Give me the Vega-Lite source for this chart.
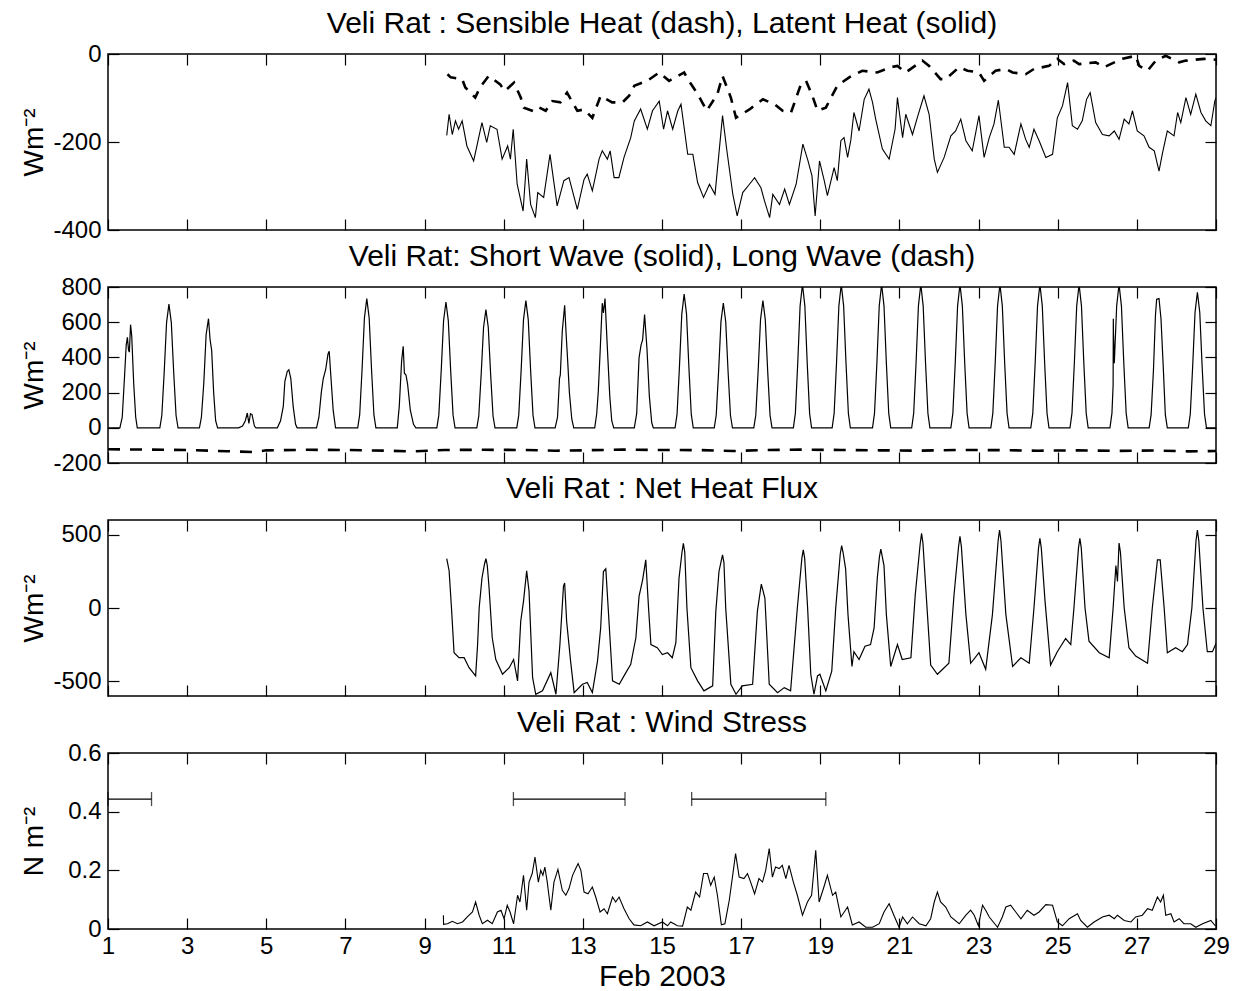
{
"$schema": "https://vega.github.io/schema/vega-lite/v6.json",
"background": "white",
"padding": {"left": 19, "top": 8, "right": 15, "bottom": 0},
"bounds": "flush",
"spacing": 57,
"config": {
  "font": "Liberation Sans",
  "view": {"stroke": "black", "strokeWidth": 1.5},
  "axis": {"labelFont": "Liberation Sans", "labelFontSize": 24, "labelColor": "black", "titleFont": "Liberation Sans", "titleFontSize": 28, "titleFontWeight": "normal", "titleColor": "black", "tickColor": "black", "tickWidth": 1.2, "tickSize": -11, "domain": false, "grid": false, "labelFlush": false, "labelOverlap": false, "labelExpr": "'' + datum.value"},
  "axisX": {"labelPadding": 16, "titlePadding": 3},
  "axisY": {"labelPadding": 18},
  "title": {"font": "Liberation Sans", "fontSize": 30, "fontWeight": "normal", "color": "black", "frame": "group", "offset": 3}
},
"datasets": {
"lat": [{"t":9.56,"v":-185},{"t":9.62,"v":-137},{"t":9.7,"v":-183},{"t":9.78,"v":-152},{"t":9.86,"v":-171},{"t":9.95,"v":-152},{"t":10.07,"v":-209},{"t":10.24,"v":-243},{"t":10.45,"v":-156},{"t":10.57,"v":-201},{"t":10.66,"v":-163},{"t":10.83,"v":-171},{"t":10.96,"v":-239},{"t":11.1,"v":-209},{"t":11.17,"v":-239},{"t":11.24,"v":-171},{"t":11.34,"v":-296},{"t":11.49,"v":-357},{"t":11.58,"v":-239},{"t":11.68,"v":-342},{"t":11.8,"v":-372},{"t":11.86,"v":-315},{"t":12.01,"v":-326},{"t":12.17,"v":-228},{"t":12.35,"v":-345},{"t":12.52,"v":-288},{"t":12.65,"v":-281},{"t":12.86,"v":-353},{"t":13.03,"v":-285},{"t":13.11,"v":-273},{"t":13.24,"v":-311},{"t":13.41,"v":-239},{"t":13.49,"v":-220},{"t":13.62,"v":-239},{"t":13.69,"v":-220},{"t":13.79,"v":-281},{"t":13.91,"v":-281},{"t":14.04,"v":-235},{"t":14.21,"v":-190},{"t":14.3,"v":-152},{"t":14.46,"v":-125},{"t":14.63,"v":-171},{"t":14.76,"v":-129},{"t":14.93,"v":-107},{"t":15.04,"v":-171},{"t":15.14,"v":-129},{"t":15.27,"v":-171},{"t":15.4,"v":-129},{"t":15.48,"v":-114},{"t":15.65,"v":-228},{"t":15.78,"v":-228},{"t":15.9,"v":-292},{"t":16.05,"v":-326},{"t":16.2,"v":-296},{"t":16.34,"v":-319},{"t":16.53,"v":-140},{"t":16.64,"v":-220},{"t":16.79,"v":-319},{"t":16.9,"v":-368},{"t":17.04,"v":-315},{"t":17.21,"v":-296},{"t":17.34,"v":-281},{"t":17.5,"v":-304},{"t":17.59,"v":-334},{"t":17.72,"v":-372},{"t":17.8,"v":-319},{"t":17.97,"v":-342},{"t":18.1,"v":-307},{"t":18.22,"v":-342},{"t":18.39,"v":-296},{"t":18.56,"v":-205},{"t":18.69,"v":-243},{"t":18.79,"v":-277},{"t":18.87,"v":-368},{"t":18.98,"v":-243},{"t":19.1,"v":-288},{"t":19.18,"v":-322},{"t":19.35,"v":-258},{"t":19.43,"v":-288},{"t":19.52,"v":-197},{"t":19.6,"v":-190},{"t":19.69,"v":-235},{"t":19.77,"v":-197},{"t":19.85,"v":-133},{"t":19.98,"v":-175},{"t":20.11,"v":-103},{"t":20.23,"v":-80},{"t":20.32,"v":-110},{"t":20.4,"v":-148},{"t":20.57,"v":-216},{"t":20.74,"v":-239},{"t":20.89,"v":-171},{"t":20.95,"v":-99},{"t":21.08,"v":-190},{"t":21.16,"v":-137},{"t":21.33,"v":-183},{"t":21.45,"v":-145},{"t":21.62,"v":-95},{"t":21.75,"v":-137},{"t":21.88,"v":-239},{"t":21.96,"v":-269},{"t":22.13,"v":-235},{"t":22.3,"v":-186},{"t":22.42,"v":-175},{"t":22.55,"v":-148},{"t":22.68,"v":-197},{"t":22.84,"v":-220},{"t":23.01,"v":-140},{"t":23.14,"v":-235},{"t":23.27,"v":-190},{"t":23.39,"v":-159},{"t":23.5,"v":-105},{"t":23.65,"v":-212},{"t":23.77,"v":-212},{"t":23.9,"v":-228},{"t":24.07,"v":-159},{"t":24.19,"v":-194},{"t":24.28,"v":-212},{"t":24.4,"v":-171},{"t":24.53,"v":-197},{"t":24.7,"v":-235},{"t":24.87,"v":-228},{"t":24.99,"v":-145},{"t":25.12,"v":-118},{"t":25.25,"v":-65},{"t":25.37,"v":-163},{"t":25.5,"v":-171},{"t":25.62,"v":-152},{"t":25.73,"v":-103},{"t":25.82,"v":-88},{"t":25.96,"v":-156},{"t":26.13,"v":-183},{"t":26.3,"v":-186},{"t":26.43,"v":-175},{"t":26.55,"v":-194},{"t":26.68,"v":-148},{"t":26.8,"v":-159},{"t":26.89,"v":-129},{"t":27.01,"v":-175},{"t":27.18,"v":-186},{"t":27.31,"v":-212},{"t":27.44,"v":-220},{"t":27.56,"v":-266},{"t":27.65,"v":-224},{"t":27.77,"v":-175},{"t":27.94,"v":-186},{"t":28.03,"v":-133},{"t":28.11,"v":-156},{"t":28.24,"v":-99},{"t":28.36,"v":-137},{"t":28.49,"v":-91},{"t":28.62,"v":-133},{"t":28.74,"v":-152},{"t":28.87,"v":-163},{"t":28.97,"v":-107},{"t":29.0,"v":-100}],
"sen": [{"t":9.58,"v":-46},{"t":9.66,"v":-53},{"t":9.95,"v":-57},{"t":10.03,"v":-76},{"t":10.28,"v":-99},{"t":10.4,"v":-76},{"t":10.62,"v":-50},{"t":10.91,"v":-69},{"t":11.03,"v":-84},{"t":11.26,"v":-65},{"t":11.43,"v":-99},{"t":11.51,"v":-122},{"t":11.78,"v":-131},{"t":11.9,"v":-122},{"t":12.06,"v":-129},{"t":12.23,"v":-107},{"t":12.43,"v":-110},{"t":12.6,"v":-88},{"t":12.86,"v":-129},{"t":13.03,"v":-126},{"t":13.24,"v":-145},{"t":13.45,"v":-95},{"t":13.74,"v":-110},{"t":14.0,"v":-110},{"t":14.17,"v":-95},{"t":14.3,"v":-72},{"t":14.63,"v":-61},{"t":14.93,"v":-42},{"t":15.18,"v":-61},{"t":15.56,"v":-42},{"t":15.65,"v":-57},{"t":15.9,"v":-91},{"t":16.13,"v":-129},{"t":16.4,"v":-91},{"t":16.53,"v":-50},{"t":16.74,"v":-99},{"t":16.87,"v":-145},{"t":17.21,"v":-126},{"t":17.55,"v":-103},{"t":17.84,"v":-114},{"t":18.05,"v":-129},{"t":18.26,"v":-133},{"t":18.51,"v":-69},{"t":18.64,"v":-61},{"t":18.8,"v":-95},{"t":18.93,"v":-129},{"t":19.14,"v":-122},{"t":19.43,"v":-72},{"t":19.73,"v":-53},{"t":20.06,"v":-38},{"t":20.44,"v":-42},{"t":20.78,"v":-30},{"t":20.95,"v":-27},{"t":21.16,"v":-42},{"t":21.58,"v":-15},{"t":21.75,"v":-27},{"t":22.04,"v":-57},{"t":22.17,"v":-57},{"t":22.51,"v":-30},{"t":22.72,"v":-38},{"t":23.01,"v":-42},{"t":23.14,"v":-61},{"t":23.43,"v":-38},{"t":23.69,"v":-34},{"t":23.86,"v":-42},{"t":24.19,"v":-46},{"t":24.4,"v":-34},{"t":24.78,"v":-27},{"t":24.99,"v":-11},{"t":25.16,"v":-23},{"t":25.41,"v":-15},{"t":25.54,"v":-23},{"t":25.96,"v":-19},{"t":26.17,"v":-30},{"t":26.43,"v":-19},{"t":26.64,"v":-11},{"t":26.97,"v":-4},{"t":27.06,"v":-27},{"t":27.27,"v":-38},{"t":27.48,"v":-15},{"t":27.73,"v":-4},{"t":28.07,"v":-19},{"t":28.24,"v":-15},{"t":28.7,"v":-11},{"t":29.0,"v":-13}],
"sw": [{"t":1.0,"v":0},{"t":1.3,"v":0},{"t":1.36,"v":60},{"t":1.42,"v":300},{"t":1.46,"v":470},{"t":1.49,"v":514},{"t":1.52,"v":440},{"t":1.54,"v":430},{"t":1.57,"v":586},{"t":1.6,"v":520},{"t":1.65,"v":250},{"t":1.7,"v":60},{"t":1.74,"v":0},
{"t":2.31,"v":0},{"t":2.36,"v":70},{"t":2.42,"v":316},{"t":2.48,"v":598},{"t":2.54,"v":703},{"t":2.6,"v":598},{"t":2.66,"v":316},{"t":2.72,"v":70},{"t":2.77,"v":0},
{"t":3.31,"v":0},{"t":3.36,"v":60},{"t":3.42,"v":250},{"t":3.48,"v":530},{"t":3.54,"v":620},{"t":3.58,"v":500},{"t":3.62,"v":440},{"t":3.67,"v":200},{"t":3.72,"v":40},{"t":3.77,"v":0},
{"t":4.3,"v":0},{"t":4.4,"v":10},{"t":4.47,"v":40},{"t":4.52,"v":84},{"t":4.56,"v":25},{"t":4.6,"v":80},{"t":4.64,"v":75},{"t":4.7,"v":10},{"t":4.74,"v":0},
{"t":5.28,"v":0},{"t":5.36,"v":40},{"t":5.43,"v":122},{"t":5.47,"v":264},{"t":5.53,"v":320},{"t":5.57,"v":330},{"t":5.62,"v":280},{"t":5.68,"v":120},{"t":5.74,"v":20},{"t":5.78,"v":0},
{"t":6.27,"v":0},{"t":6.33,"v":60},{"t":6.39,"v":200},{"t":6.44,"v":280},{"t":6.5,"v":330},{"t":6.56,"v":420},{"t":6.59,"v":435},{"t":6.63,"v":300},{"t":6.69,"v":100},{"t":6.75,"v":0},
{"t":7.31,"v":0},{"t":7.36,"v":73},{"t":7.42,"v":330},{"t":7.48,"v":624},{"t":7.54,"v":734},{"t":7.6,"v":624},{"t":7.66,"v":330},{"t":7.72,"v":73},{"t":7.77,"v":0},
{"t":8.31,"v":0},{"t":8.36,"v":120},{"t":8.42,"v":380},{"t":8.46,"v":463},{"t":8.49,"v":310},{"t":8.53,"v":300},{"t":8.57,"v":250},{"t":8.64,"v":100},{"t":8.72,"v":20},{"t":8.78,"v":0},
{"t":9.31,"v":0},{"t":9.36,"v":72},{"t":9.42,"v":322},{"t":9.48,"v":608},{"t":9.54,"v":715},{"t":9.6,"v":608},{"t":9.66,"v":322},{"t":9.72,"v":72},{"t":9.77,"v":0},
{"t":10.32,"v":0},{"t":10.37,"v":67},{"t":10.43,"v":302},{"t":10.49,"v":570},{"t":10.55,"v":671},{"t":10.61,"v":570},{"t":10.67,"v":302},{"t":10.73,"v":67},{"t":10.78,"v":0},
{"t":11.33,"v":0},{"t":11.38,"v":72},{"t":11.44,"v":325},{"t":11.5,"v":615},{"t":11.56,"v":723},{"t":11.62,"v":615},{"t":11.68,"v":325},{"t":11.74,"v":72},{"t":11.79,"v":0},
{"t":12.3,"v":0},{"t":12.36,"v":60},{"t":12.41,"v":280},{"t":12.43,"v":300},{"t":12.48,"v":550},{"t":12.54,"v":696},{"t":12.58,"v":520},{"t":12.61,"v":406},{"t":12.66,"v":200},{"t":12.72,"v":50},{"t":12.77,"v":0},
{"t":13.3,"v":0},{"t":13.35,"v":80},{"t":13.39,"v":207},{"t":13.44,"v":450},{"t":13.49,"v":708},{"t":13.52,"v":652},{"t":13.56,"v":734},{"t":13.62,"v":450},{"t":13.68,"v":180},{"t":13.73,"v":40},{"t":13.78,"v":0},
{"t":14.3,"v":0},{"t":14.36,"v":80},{"t":14.42,"v":397},{"t":14.47,"v":470},{"t":14.51,"v":500},{"t":14.56,"v":643},{"t":14.62,"v":450},{"t":14.68,"v":180},{"t":14.74,"v":30},{"t":14.78,"v":0},
{"t":15.33,"v":0},{"t":15.38,"v":76},{"t":15.44,"v":342},{"t":15.5,"v":646},{"t":15.56,"v":760},{"t":15.62,"v":646},{"t":15.68,"v":342},{"t":15.74,"v":76},{"t":15.79,"v":0},
{"t":16.32,"v":0},{"t":16.37,"v":71},{"t":16.43,"v":319},{"t":16.49,"v":603},{"t":16.55,"v":709},{"t":16.61,"v":603},{"t":16.67,"v":319},{"t":16.73,"v":71},{"t":16.78,"v":0},
{"t":17.32,"v":0},{"t":17.37,"v":72},{"t":17.43,"v":325},{"t":17.49,"v":615},{"t":17.55,"v":723},{"t":17.61,"v":615},{"t":17.67,"v":325},{"t":17.73,"v":72},{"t":17.78,"v":0},
{"t":18.32,"v":0},{"t":18.37,"v":82},{"t":18.43,"v":367},{"t":18.49,"v":693},{"t":18.55,"v":815},{"t":18.61,"v":693},{"t":18.67,"v":367},{"t":18.73,"v":82},{"t":18.78,"v":0},
{"t":19.3,"v":0},{"t":19.35,"v":82},{"t":19.41,"v":367},{"t":19.47,"v":693},{"t":19.53,"v":815},{"t":19.59,"v":693},{"t":19.65,"v":367},{"t":19.71,"v":82},{"t":19.76,"v":0},
{"t":20.32,"v":0},{"t":20.37,"v":82},{"t":20.43,"v":367},{"t":20.49,"v":693},{"t":20.55,"v":815},{"t":20.61,"v":693},{"t":20.67,"v":367},{"t":20.73,"v":82},{"t":20.78,"v":0},
{"t":21.31,"v":0},{"t":21.36,"v":82},{"t":21.42,"v":367},{"t":21.48,"v":693},{"t":21.54,"v":815},{"t":21.6,"v":693},{"t":21.66,"v":367},{"t":21.72,"v":82},{"t":21.77,"v":0},
{"t":22.3,"v":0},{"t":22.35,"v":82},{"t":22.41,"v":367},{"t":22.47,"v":693},{"t":22.53,"v":815},{"t":22.59,"v":693},{"t":22.65,"v":367},{"t":22.71,"v":82},{"t":22.76,"v":0},
{"t":23.31,"v":0},{"t":23.36,"v":82},{"t":23.42,"v":367},{"t":23.48,"v":693},{"t":23.54,"v":815},{"t":23.6,"v":693},{"t":23.66,"v":367},{"t":23.72,"v":82},{"t":23.77,"v":0},
{"t":24.32,"v":0},{"t":24.37,"v":82},{"t":24.43,"v":367},{"t":24.49,"v":693},{"t":24.55,"v":815},{"t":24.61,"v":693},{"t":24.67,"v":367},{"t":24.73,"v":82},{"t":24.78,"v":0},
{"t":25.31,"v":0},{"t":25.36,"v":82},{"t":25.42,"v":367},{"t":25.48,"v":693},{"t":25.54,"v":815},{"t":25.6,"v":693},{"t":25.66,"v":367},{"t":25.72,"v":82},{"t":25.77,"v":0},
{"t":26.32,"v":0},{"t":26.37,"v":82},{"t":26.4,"v":240},{"t":26.405,"v":620},{"t":26.41,"v":530},{"t":26.43,"v":367},{"t":26.49,"v":693},{"t":26.55,"v":815},{"t":26.61,"v":693},{"t":26.67,"v":367},{"t":26.73,"v":82},{"t":26.78,"v":0},
{"t":27.31,"v":0},{"t":27.36,"v":73},{"t":27.42,"v":330},{"t":27.47,"v":640},{"t":27.5,"v":730},{"t":27.56,"v":734},{"t":27.61,"v":620},{"t":27.67,"v":330},{"t":27.72,"v":73},{"t":27.77,"v":0},
{"t":28.3,"v":0},{"t":28.35,"v":77},{"t":28.41,"v":347},{"t":28.47,"v":655},{"t":28.53,"v":770},{"t":28.59,"v":655},{"t":28.65,"v":347},{"t":28.71,"v":77},{"t":28.76,"v":0},{"t":29.0,"v":0}],
"lw": [{"t":1,"v":-122},{"t":2,"v":-124},{"t":3,"v":-126},{"t":4,"v":-133},{"t":4.7,"v":-138},{"t":5,"v":-128},{"t":6,"v":-125},{"t":7,"v":-126},{"t":8,"v":-130},{"t":8.7,"v":-134},{"t":9.5,"v":-126},{"t":10.5,"v":-125},{"t":11.5,"v":-126},{"t":12.3,"v":-130},{"t":13,"v":-128},{"t":14,"v":-124},{"t":15,"v":-126},{"t":16,"v":-127},{"t":16.8,"v":-132},{"t":17.5,"v":-127},{"t":18.5,"v":-124},{"t":19.5,"v":-126},{"t":20.5,"v":-128},{"t":21.5,"v":-130},{"t":22.5,"v":-126},{"t":23.5,"v":-127},{"t":24.5,"v":-130},{"t":25.5,"v":-128},{"t":26.5,"v":-131},{"t":27.5,"v":-129},{"t":28.3,"v":-134},{"t":29,"v":-132}],
"net": [{"t":9.56,"v":337},{"t":9.62,"v":254},{"t":9.68,"v":0},{"t":9.745,"v":-305},{"t":9.87,"v":-339},{"t":10.0,"v":-339},{"t":10.125,"v":-407},{"t":10.29,"v":-463},{"t":10.34,"v":-249},{"t":10.38,"v":0},{"t":10.45,"v":203},{"t":10.515,"v":300},{"t":10.55,"v":337},{"t":10.585,"v":290},{"t":10.63,"v":136},{"t":10.71,"v":-203},{"t":10.8,"v":-351},{"t":10.97,"v":-452},{"t":11.14,"v":-407},{"t":11.25,"v":-351},{"t":11.35,"v":-497},{"t":11.43,"v":-90},{"t":11.5,"v":45},{"t":11.58,"v":253},{"t":11.64,"v":113},{"t":11.73,"v":-475},{"t":11.81,"v":-588},{"t":11.98,"v":-565},{"t":12.19,"v":-441},{"t":12.32,"v":-588},{"t":12.42,"v":-249},{"t":12.51,"v":147},{"t":12.54,"v":170},{"t":12.59,"v":-90},{"t":12.69,"v":-362},{"t":12.78,"v":-577},{"t":12.99,"v":-520},{"t":13.11,"v":-508},{"t":13.24,"v":-577},{"t":13.37,"v":-362},{"t":13.45,"v":-136},{"t":13.52,"v":249},{"t":13.58,"v":267},{"t":13.64,"v":0},{"t":13.75,"v":-497},{"t":13.92,"v":-520},{"t":14.04,"v":-463},{"t":14.21,"v":-384},{"t":14.34,"v":-203},{"t":14.42,"v":79},{"t":14.51,"v":192},{"t":14.59,"v":328},{"t":14.66,"v":0},{"t":14.72,"v":-249},{"t":14.88,"v":-271},{"t":15.01,"v":-317},{"t":15.14,"v":-305},{"t":15.26,"v":-339},{"t":15.35,"v":-237},{"t":15.43,"v":203},{"t":15.505,"v":380},{"t":15.54,"v":441},{"t":15.575,"v":380},{"t":15.63,"v":0},{"t":15.73,"v":-407},{"t":15.9,"v":-497},{"t":16.06,"v":-565},{"t":16.28,"v":-531},{"t":16.36,"v":-23},{"t":16.44,"v":249},{"t":16.495,"v":320},{"t":16.53,"v":362},{"t":16.565,"v":310},{"t":16.61,"v":0},{"t":16.74,"v":-520},{"t":16.87,"v":-588},{"t":17.03,"v":-531},{"t":17.29,"v":-520},{"t":17.41,"v":-23},{"t":17.51,"v":163},{"t":17.6,"v":68},{"t":17.71,"v":-520},{"t":17.92,"v":-577},{"t":18.09,"v":-543},{"t":18.25,"v":-565},{"t":18.42,"v":0},{"t":18.535,"v":340},{"t":18.57,"v":396},{"t":18.605,"v":340},{"t":18.68,"v":0},{"t":18.76,"v":-452},{"t":18.84,"v":-588},{"t":18.93,"v":-463},{"t":18.99,"v":-452},{"t":19.14,"v":-565},{"t":19.29,"v":-430},{"t":19.39,"v":0},{"t":19.505,"v":370},{"t":19.54,"v":425},{"t":19.575,"v":380},{"t":19.64,"v":267},{"t":19.7,"v":-45},{"t":19.8,"v":-399},{"t":19.85,"v":-298},{"t":19.98,"v":-351},{"t":20.13,"v":-260},{"t":20.27,"v":-249},{"t":20.36,"v":-136},{"t":20.44,"v":203},{"t":20.495,"v":350},{"t":20.53,"v":402},{"t":20.61,"v":289},{"t":20.67,"v":-45},{"t":20.78,"v":-399},{"t":20.95,"v":-249},{"t":21.07,"v":-351},{"t":21.29,"v":-339},{"t":21.4,"v":90},{"t":21.525,"v":440},{"t":21.56,"v":509},{"t":21.595,"v":440},{"t":21.66,"v":158},{"t":21.79,"v":-389},{"t":21.96,"v":-452},{"t":22.25,"v":-377},{"t":22.38,"v":90},{"t":22.495,"v":420},{"t":22.53,"v":488},{"t":22.565,"v":420},{"t":22.68,"v":-45},{"t":22.8,"v":-377},{"t":23.01,"v":-305},{"t":23.18,"v":-418},{"t":23.35,"v":-45},{"t":23.495,"v":460},{"t":23.53,"v":531},{"t":23.565,"v":460},{"t":23.69,"v":-45},{"t":23.86,"v":-399},{"t":24.07,"v":-339},{"t":24.28,"v":-377},{"t":24.4,"v":0},{"t":24.515,"v":410},{"t":24.55,"v":475},{"t":24.585,"v":410},{"t":24.68,"v":45},{"t":24.82,"v":-389},{"t":24.99,"v":-298},{"t":25.2,"v":-208},{"t":25.33,"v":-249},{"t":25.41,"v":0},{"t":25.525,"v":410},{"t":25.56,"v":475},{"t":25.595,"v":410},{"t":25.69,"v":0},{"t":25.79,"v":-226},{"t":26.05,"v":-305},{"t":26.3,"v":-339},{"t":26.4,"v":0},{"t":26.47,"v":289},{"t":26.51,"v":181},{"t":26.55,"v":443},{"t":26.585,"v":380},{"t":26.68,"v":0},{"t":26.8,"v":-271},{"t":26.97,"v":-328},{"t":27.27,"v":-377},{"t":27.39,"v":0},{"t":27.52,"v":328},{"t":27.59,"v":328},{"t":27.69,"v":0},{"t":27.77,"v":-305},{"t":27.98,"v":-271},{"t":28.15,"v":-298},{"t":28.28,"v":-249},{"t":28.39,"v":0},{"t":28.495,"v":460},{"t":28.53,"v":531},{"t":28.565,"v":460},{"t":28.67,"v":0},{"t":28.78,"v":-298},{"t":28.91,"v":-298},{"t":28.99,"v":-249},{"t":29.0,"v":-240}],
"ws": [{"t":9.476,"v":0.047},{"t":9.48,"v":0.016},{"t":9.58,"v":0.018},{"t":9.7,"v":0.026},{"t":9.83,"v":0.018},{"t":9.96,"v":0.024},{"t":10.08,"v":0.041},{"t":10.21,"v":0.058},{"t":10.29,"v":0.092},{"t":10.38,"v":0.047},{"t":10.46,"v":0.018},{"t":10.59,"v":0.03},{"t":10.71,"v":0.018},{"t":10.84,"v":0.058},{"t":10.93,"v":0.064},{"t":11.01,"v":0.035},{"t":11.09,"v":0.081},{"t":11.16,"v":0.058},{"t":11.25,"v":0.018},{"t":11.35,"v":0.115},{"t":11.41,"v":0.092},{"t":11.5,"v":0.183},{"t":11.58,"v":0.064},{"t":11.64,"v":0.16},{"t":11.72,"v":0.189},{"t":11.79,"v":0.245},{"t":11.875,"v":0.16},{"t":11.935,"v":0.2},{"t":11.99,"v":0.183},{"t":12.04,"v":0.211},{"t":12.1,"v":0.16},{"t":12.19,"v":0.064},{"t":12.27,"v":0.16},{"t":12.37,"v":0.203},{"t":12.48,"v":0.132},{"t":12.57,"v":0.115},{"t":12.65,"v":0.138},{"t":12.74,"v":0.183},{"t":12.82,"v":0.206},{"t":12.88,"v":0.223},{"t":12.95,"v":0.2},{"t":13.03,"v":0.126},{"t":13.13,"v":0.12},{"t":13.24,"v":0.143},{"t":13.325,"v":0.109},{"t":13.435,"v":0.058},{"t":13.535,"v":0.069},{"t":13.62,"v":0.052},{"t":13.75,"v":0.109},{"t":13.83,"v":0.092},{"t":13.915,"v":0.109},{"t":14.04,"v":0.069},{"t":14.17,"v":0.035},{"t":14.29,"v":0.014},{"t":14.46,"v":0.011},{"t":14.63,"v":0.024},{"t":14.8,"v":0.011},{"t":15.01,"v":0.024},{"t":15.14,"v":0.011},{"t":15.22,"v":0.024},{"t":15.39,"v":0.011},{"t":15.52,"v":0.01},{"t":15.64,"v":0.075},{"t":15.73,"v":0.064},{"t":15.85,"v":0.126},{"t":15.95,"v":0.109},{"t":16.05,"v":0.189},{"t":16.15,"v":0.189},{"t":16.23,"v":0.149},{"t":16.32,"v":0.177},{"t":16.4,"v":0.115},{"t":16.5,"v":0.014},{"t":16.59,"v":0.018},{"t":16.7,"v":0.098},{"t":16.78,"v":0.177},{"t":16.86,"v":0.257},{"t":16.95,"v":0.177},{"t":17.07,"v":0.172},{"t":17.16,"v":0.189},{"t":17.24,"v":0.16},{"t":17.34,"v":0.12},{"t":17.45,"v":0.172},{"t":17.54,"v":0.16},{"t":17.62,"v":0.2},{"t":17.71,"v":0.274},{"t":17.79,"v":0.177},{"t":17.87,"v":0.211},{"t":17.96,"v":0.206},{"t":18.04,"v":0.217},{"t":18.13,"v":0.172},{"t":18.21,"v":0.217},{"t":18.32,"v":0.16},{"t":18.42,"v":0.115},{"t":18.55,"v":0.047},{"t":18.675,"v":0.092},{"t":18.78,"v":0.115},{"t":18.885,"v":0.268},{"t":18.97,"v":0.092},{"t":19.08,"v":0.138},{"t":19.18,"v":0.183},{"t":19.31,"v":0.115},{"t":19.39,"v":0.126},{"t":19.52,"v":0.041},{"t":19.69,"v":0.075},{"t":19.81,"v":0.014},{"t":19.98,"v":0.024},{"t":20.15,"v":0.006},{"t":20.32,"v":0.006},{"t":20.49,"v":0.018},{"t":20.61,"v":0.058},{"t":20.74,"v":0.086},{"t":20.86,"v":0.047},{"t":20.99,"v":0.006},{"t":21.08,"v":0.041},{"t":21.2,"v":0.018},{"t":21.33,"v":0.041},{"t":21.5,"v":0.018},{"t":21.67,"v":0.011},{"t":21.79,"v":0.035},{"t":21.88,"v":0.092},{"t":21.96,"v":0.126},{"t":22.04,"v":0.092},{"t":22.17,"v":0.075},{"t":22.3,"v":0.041},{"t":22.51,"v":0.018},{"t":22.68,"v":0.047},{"t":22.8,"v":0.064},{"t":22.89,"v":0.047},{"t":22.995,"v":0.011},{"t":23.1,"v":0.081},{"t":23.18,"v":0.064},{"t":23.27,"v":0.041},{"t":23.48,"v":0.006},{"t":23.6,"v":0.041},{"t":23.69,"v":0.075},{"t":23.81,"v":0.081},{"t":23.94,"v":0.058},{"t":24.07,"v":0.035},{"t":24.23,"v":0.064},{"t":24.4,"v":0.047},{"t":24.53,"v":0.058},{"t":24.7,"v":0.083},{"t":24.87,"v":0.081},{"t":24.99,"v":0.024},{"t":25.12,"v":0.011},{"t":25.29,"v":0.035},{"t":25.5,"v":0.052},{"t":25.58,"v":0.029},{"t":25.75,"v":0.006},{"t":25.92,"v":0.024},{"t":26.13,"v":0.041},{"t":26.3,"v":0.047},{"t":26.43,"v":0.035},{"t":26.51,"v":0.047},{"t":26.68,"v":0.029},{"t":26.85,"v":0.024},{"t":26.97,"v":0.041},{"t":27.14,"v":0.047},{"t":27.27,"v":0.069},{"t":27.39,"v":0.064},{"t":27.52,"v":0.109},{"t":27.6,"v":0.092},{"t":27.67,"v":0.115},{"t":27.73,"v":0.047},{"t":27.86,"v":0.052},{"t":27.94,"v":0.024},{"t":28.07,"v":0.035},{"t":28.19,"v":0.018},{"t":28.36,"v":0.018},{"t":28.49,"v":0.006},{"t":28.66,"v":0.018},{"t":28.87,"v":0.029},{"t":28.98,"v":0.011}],
"bars": [{"t0":1,"t1":2.1,"v":0.443},{"t0":11.245,"t1":14.065,"v":0.443},{"t0":15.75,"t1":19.14,"v":0.443}]
},
"vconcat": [
{
  "title": {"text": "Veli Rat : Sensible Heat (dash), Latent Heat (solid)"},
  "width": 1108, "height": 176,
  "layer": [
    {"data": {"name": "lat"}, "mark": {"type": "line", "color": "black", "strokeWidth": 1.1, "clip": true},
     "encoding": {
       "x": {"field": "t", "type": "quantitative", "scale": {"domain": [1, 29], "nice": false, "zero": false}, "axis": {"values": [1,3,5,7,9,11,13,15,17,19,21,23,25,27,29], "labels": false, "title": null}},
       "y": {"field": "v", "type": "quantitative", "scale": {"domain": [-400, 0], "nice": false, "zero": false}, "axis": {"values": [-400,-200,0], "title": "Wm⁻²", "titleX": -66, "titleBaseline": "alphabetic"}}}},
    {"data": {"name": "sen"}, "mark": {"type": "line", "color": "black", "strokeWidth": 2.6, "strokeDash": [10, 8], "clip": true},
     "encoding": {
       "x": {"field": "t", "type": "quantitative", "scale": {"domain": [1, 29], "nice": false, "zero": false}, "axis": {"orient": "top", "values": [1,3,5,7,9,11,13,15,17,19,21,23,25,27,29], "labels": false, "title": null}},
       "y": {"field": "v", "type": "quantitative", "scale": {"domain": [-400, 0], "nice": false, "zero": false}, "axis": {"orient": "right", "values": [-400,-200,0], "labels": false, "title": null}}}}
  ],
  "resolve": {"axis": {"x": "independent", "y": "independent"}}
},
{
  "title": {"text": "Veli Rat: Short Wave (solid), Long Wave (dash)"},
  "width": 1108, "height": 176,
  "layer": [
    {"data": {"name": "sw"}, "mark": {"type": "line", "color": "black", "strokeWidth": 1.2, "clip": true},
     "encoding": {
       "x": {"field": "t", "type": "quantitative", "scale": {"domain": [1, 29], "nice": false, "zero": false}, "axis": {"values": [1,3,5,7,9,11,13,15,17,19,21,23,25,27,29], "labels": false, "title": null}},
       "y": {"field": "v", "type": "quantitative", "scale": {"domain": [-200, 800], "nice": false, "zero": false}, "axis": {"values": [-200,0,200,400,600,800], "title": "Wm⁻²", "titleX": -66, "titleBaseline": "alphabetic"}}}},
    {"data": {"name": "lw"}, "mark": {"type": "line", "color": "black", "strokeWidth": 2.6, "strokeDash": [12, 10], "clip": true},
     "encoding": {
       "x": {"field": "t", "type": "quantitative", "scale": {"domain": [1, 29], "nice": false, "zero": false}, "axis": {"orient": "top", "values": [1,3,5,7,9,11,13,15,17,19,21,23,25,27,29], "labels": false, "title": null}},
       "y": {"field": "v", "type": "quantitative", "scale": {"domain": [-200, 800], "nice": false, "zero": false}, "axis": {"orient": "right", "values": [-200,0,200,400,600,800], "labels": false, "title": null}}}}
  ],
  "resolve": {"axis": {"x": "independent", "y": "independent"}}
},
{
  "title": {"text": "Veli Rat : Net Heat Flux", "offset": 15},
  "width": 1108, "height": 176,
  "layer": [
    {"data": {"name": "net"}, "mark": {"type": "line", "color": "black", "strokeWidth": 1.2, "clip": true},
     "encoding": {
       "x": {"field": "t", "type": "quantitative", "scale": {"domain": [1, 29], "nice": false, "zero": false}, "axis": {"values": [1,3,5,7,9,11,13,15,17,19,21,23,25,27,29], "labels": false, "title": null}},
       "y": {"field": "v", "type": "quantitative", "scale": {"domain": [-600, 600], "nice": false, "zero": false}, "axis": {"values": [-500,0,500], "title": "Wm⁻²", "titleX": -66, "titleBaseline": "alphabetic"}}}},
    {"data": {"name": "net"}, "mark": {"type": "line", "opacity": 0},
     "encoding": {
       "x": {"field": "t", "type": "quantitative", "scale": {"domain": [1, 29], "nice": false, "zero": false}, "axis": {"orient": "top", "values": [1,3,5,7,9,11,13,15,17,19,21,23,25,27,29], "labels": false, "title": null}},
       "y": {"field": "v", "type": "quantitative", "scale": {"domain": [-600, 600], "nice": false, "zero": false}, "axis": {"orient": "right", "values": [-500,0,500], "labels": false, "title": null}}}},
    {"mark": {"type": "rule", "color": "black", "strokeWidth": 1.6},
     "encoding": {"y": {"datum": 0, "type": "quantitative", "axis": null}}}
  ],
  "resolve": {"axis": {"x": "independent", "y": "independent"}}
},
{
  "title": {"text": "Veli Rat : Wind Stress"},
  "width": 1108, "height": 176,
  "layer": [
    {"data": {"name": "ws"}, "mark": {"type": "line", "color": "black", "strokeWidth": 1.1, "clip": true},
     "encoding": {
       "x": {"field": "t", "type": "quantitative", "scale": {"domain": [1, 29], "nice": false, "zero": false}, "axis": {"values": [1,3,5,7,9,11,13,15,17,19,21,23,25,27,29], "title": "Feb 2003", "titleFontSize": 30}},
       "y": {"field": "v", "type": "quantitative", "scale": {"domain": [0, 0.6], "nice": false, "zero": false}, "axis": {"values": [0,0.2,0.4,0.6], "title": "N m⁻²", "titleX": -66, "titleBaseline": "alphabetic"}}}},
    {"data": {"name": "bars"}, "mark": {"type": "rule", "color": "black", "strokeWidth": 1.3},
     "encoding": {
       "x": {"field": "t0", "type": "quantitative", "scale": {"domain": [1, 29], "nice": false, "zero": false}, "axis": {"orient": "top", "values": [1,3,5,7,9,11,13,15,17,19,21,23,25,27,29], "labels": false, "title": null}},
       "x2": {"field": "t1"},
       "y": {"field": "v", "type": "quantitative", "scale": {"domain": [0, 0.6], "nice": false, "zero": false}, "axis": {"orient": "right", "values": [0,0.2,0.4,0.6], "labels": false, "title": null}}}},
    {"data": {"name": "bars"}, "mark": {"type": "tick", "orient": "vertical", "color": "black", "size": 14, "thickness": 1.3},
     "encoding": {
       "x": {"field": "t0", "type": "quantitative", "axis": null},
       "y": {"field": "v", "type": "quantitative", "axis": null}}},
    {"data": {"name": "bars"}, "mark": {"type": "tick", "orient": "vertical", "color": "black", "size": 14, "thickness": 1.3},
     "encoding": {
       "x": {"field": "t1", "type": "quantitative", "axis": null},
       "y": {"field": "v", "type": "quantitative", "axis": null}}}
  ],
  "resolve": {"axis": {"x": "independent", "y": "independent"}}
}
]
}
